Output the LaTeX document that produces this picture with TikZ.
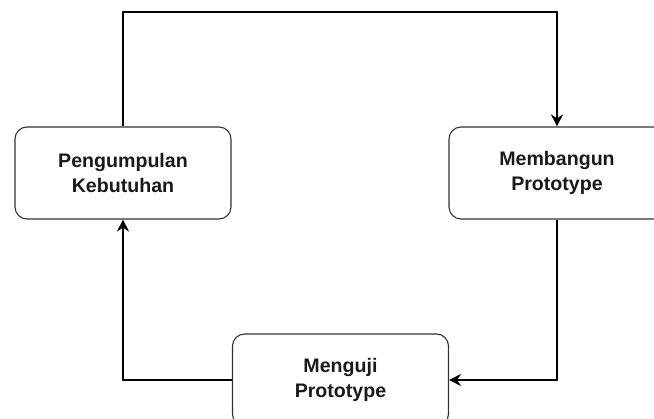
\documentclass[tikz,border=0pt]{standalone}
\usepackage{fontspec}
\setmainfont{Liberation Sans}
\usetikzlibrary{arrows.meta}
\begin{document}
\begin{tikzpicture}[x=1pt,y=-1pt,
  stage/.style={draw=black!80, line width=1.1pt, rounded corners=12pt,
    minimum width=216pt, minimum height=92pt, inner sep=0pt,
    align=center, font=\fontsize{19.6}{25}\selectfont\bfseries, text=black!90},
  flow/.style={draw=black, line width=2.2pt,
    -{Stealth[length=12pt,width=12pt,inset=4pt]}}]
  \useasboundingbox (0,0) rectangle (654,419);
  \clip (0,0) rectangle (654,419);
  % process stages
  \node[stage] (gather) at (123,173) {Pengumpulan\\Kebutuhan};
  \node[stage] (build) at (557,173) {Membangun\\Prototype};
  \node[stage] (test) at (340.5,380) {Menguji\\Prototype};
  % cycle connectors
  \coordinate (topL) at (123,12);
  \coordinate (topR) at (557,12);
  \draw[flow] (gather.north) -- (topL) -- (topR) -- (build.north);
  \draw[flow] (build.south) |- (test.east);
  \draw[flow] (test.west) -| (gather.south);
\end{tikzpicture}
\end{document}
